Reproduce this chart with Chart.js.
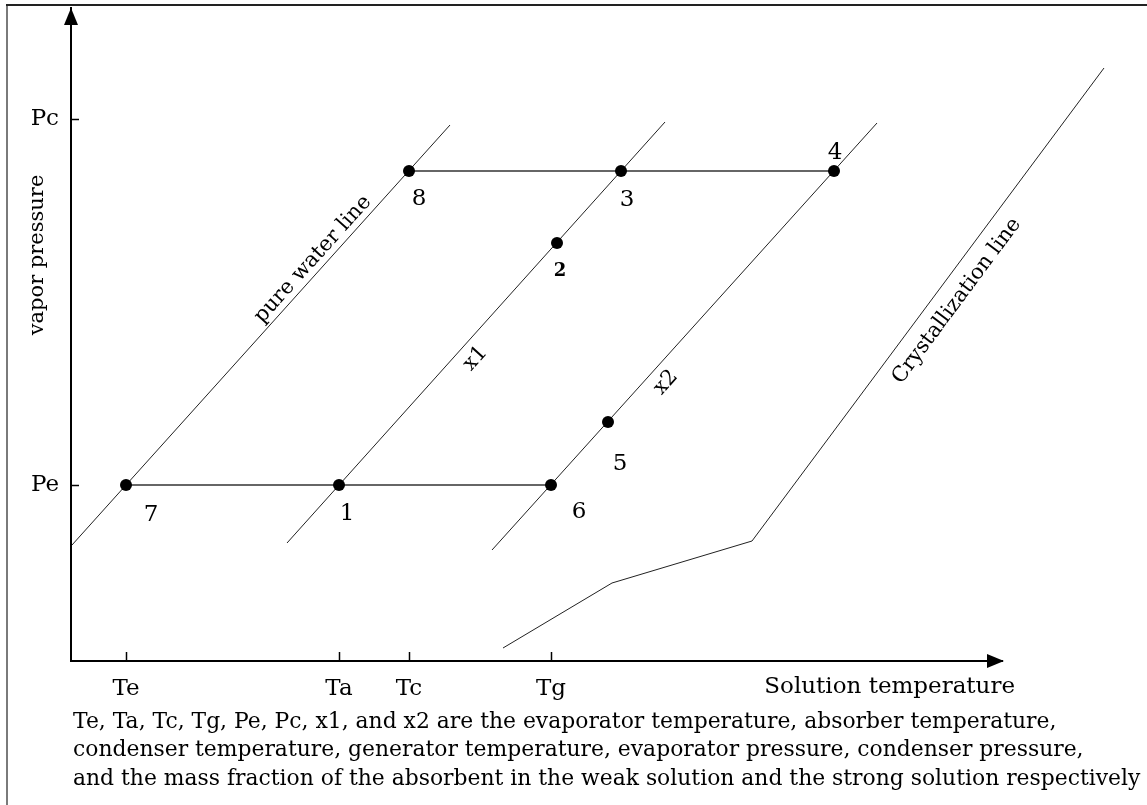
<!DOCTYPE html>
<html>
<head>
<meta charset="utf-8">
<title>Vapor pressure - solution temperature</title>
<script src="https://cdn.jsdelivr.net/npm/chart.js@4.4.1/dist/chart.umd.min.js"></script>
<style>
  html, body { margin: 0; padding: 0; background: #fff; }
  #grafico-wrap { width: 1147px; height: 805px; }
</style>
</head>
<body>
<div id="grafico-wrap"><canvas id="grafico" width="1147" height="805"></canvas></div>
<script>
// Datos del diagrama (unidades arbitrarias)
const tempTicks = [5.5, 26.8, 33.8, 48.0]
const tempNames = ['Te', 'Ta', 'Tc', 'Tg']
const presTicks = [17.6, 54.2]
const presNames = ['Pe', 'Pc']

// puntos de estado 1..8
const pointNames = ['1', '2', '3', '4', '5', '6', '7', '8']
const pointT = [26.8, 48.6, 55.0, 76.3, 53.7, 48.0, 5.5, 33.8]
const pointP = [17.6, 41.8, 49.0, 49.0, 23.9, 17.6, 17.6, 49.0]

// lineas
const pureWaterT = [0.1, 37.9]
const pureWaterP = [11.6, 53.6]
const x1T = [21.6, 59.4]
const x1P = [11.8, 53.9]
const x2T = [42.1, 80.6]
const x2P = [11.1, 53.8]
const crystT = [43.2, 54.1, 68.1, 103.3]
const crystP = [1.3, 7.8, 12.0, 59.3]
const peLineT = [5.5, 48.0]
const peLineP = [17.6, 17.6]
const pcLineT = [33.8, 76.3]
const pcLineP = [49.0, 49.0]

const caption = [
  'Te, Ta, Tc, Tg, Pe, Pc, x1, and x2 are the evaporator temperature, absorber temperature,',
  'condenser temperature, generator temperature, evaporator pressure, condenser pressure,',
  'and the mass fraction of the absorbent in the weak solution and the strong solution respectively'
]

// estilos de etiquetas (desplazamientos en pixeles)
const FONT = "'DejaVu Serif', 'Liberation Serif', serif"
const labelOffsets = {
  '1': [8, 29], '2': [3, 28], '3': [6, 29], '4': [1, -18],
  '5': [12, 42], '6': [28, 27], '7': [25, 30], '8': [10, 28]
}
const lineLabels = [
  { text: 'pure water line', line: 'pure', seg: 0, t: 0.661, dy: -12 },
  { text: 'x1', line: 'x1', seg: 0, t: 0.465, dy: 17 },
  { text: 'x2', line: 'x2', seg: 0, t: 0.419, dy: 17 },
  { text: 'Crystallization line', line: 'cryst', seg: 2, t: 0.534, dy: 21 }
]

function puntos(xs, ys) {
  return xs.map((v, i) => ({ x: v, y: ys[i] }))
}

function linea(id, xs, ys, ancho, color) {
  return {
    id: id,
    data: puntos(xs, ys),
    showLine: true,
    borderColor: color,
    borderWidth: ancho,
    pointRadius: 0,
    fill: false,
    clip: false
  }
}

// quita el relleno que Chart.js agrega por las etiquetas extremas
function sinRelleno(s) {
  s.paddingTop = 0
  s.paddingBottom = 0
  s.paddingLeft = 0
  s.paddingRight = 0
}

// Dibuja marco, flechas, marcas y textos
const decoracion = {
  id: 'decoracion',
  beforeDraw(chart) {
    const ctx = chart.ctx
    ctx.save()
    ctx.fillStyle = '#fff'
    ctx.fillRect(0, 0, chart.width, chart.height)
    ctx.lineWidth = 2
    ctx.strokeStyle = '#7a7a7a'
    ctx.beginPath(); ctx.moveTo(7, chart.height); ctx.lineTo(7, 5); ctx.stroke()
    ctx.strokeStyle = '#222'
    ctx.beginPath(); ctx.moveTo(6, 5); ctx.lineTo(chart.width, 5); ctx.stroke()
    ctx.restore()
  },
  afterDraw(chart) {
    const { ctx, chartArea } = chart
    const sx = chart.scales.x
    const sy = chart.scales.y
    ctx.save()
    ctx.fillStyle = '#000'
    ctx.strokeStyle = '#000'

    // flechas de los ejes
    ctx.beginPath()
    ctx.moveTo(chartArea.left, chartArea.top)
    ctx.lineTo(chartArea.left - 7, chartArea.top + 17)
    ctx.lineTo(chartArea.left + 7, chartArea.top + 17)
    ctx.closePath(); ctx.fill()
    ctx.beginPath()
    ctx.moveTo(chartArea.right + 2, chartArea.bottom)
    ctx.lineTo(chartArea.right - 15, chartArea.bottom - 7)
    ctx.lineTo(chartArea.right - 15, chartArea.bottom + 7)
    ctx.closePath(); ctx.fill()

    // marcas interiores
    ctx.lineWidth = 1.5
    tempTicks.forEach(v => {
      const px = Math.round(sx.getPixelForValue(v)) + 0.5
      ctx.beginPath(); ctx.moveTo(px, chartArea.bottom); ctx.lineTo(px, chartArea.bottom - 9); ctx.stroke()
    })
    presTicks.forEach(v => {
      const py = Math.round(sy.getPixelForValue(v)) + 0.5
      ctx.beginPath(); ctx.moveTo(chartArea.left, py); ctx.lineTo(chartArea.left + 8, py); ctx.stroke()
    })

    ctx.fillStyle = '#000'
    // titulos de ejes
    ctx.font = '21px ' + FONT
    ctx.textAlign = 'center'
    ctx.textBaseline = 'middle'
    ctx.save()
    ctx.translate(chartArea.left - 33, 255)
    ctx.rotate(-Math.PI / 2)
    ctx.fillText('vapor pressure', 0, 0)
    ctx.restore()
    ctx.font = '23px ' + FONT
    ctx.textAlign = 'right'
    ctx.fillText('Solution temperature', chartArea.right + 13, chartArea.bottom + 26)

    // etiquetas de puntos
    const metaPts = chart.getDatasetMeta(0)
    metaPts.data.forEach((el, i) => {
      const nombre = pointNames[i]
      const off = labelOffsets[nombre]
      ctx.font = nombre === '2' ? 'bold 18px ' + FONT : '23px ' + FONT
      ctx.textAlign = 'center'
      ctx.textBaseline = 'middle'
      ctx.fillText(nombre, el.x + off[0], el.y + off[1])
    })

    // etiquetas sobre las lineas
    lineLabels.forEach(lab => {
      const idx = chart.data.datasets.findIndex(d => d.id === lab.line)
      const pts = chart.getDatasetMeta(idx).data
      const a = pts[lab.seg], b = pts[lab.seg + 1]
      const px = a.x + (b.x - a.x) * lab.t
      const py = a.y + (b.y - a.y) * lab.t
      const ang = Math.atan2(b.y - a.y, b.x - a.x)
      ctx.save()
      ctx.translate(px, py)
      ctx.rotate(ang)
      ctx.font = '21px ' + FONT
      ctx.textAlign = 'center'
      ctx.textBaseline = 'middle'
      ctx.fillText(lab.text, 0, lab.dy)
      ctx.restore()
    })

    // leyenda inferior
    ctx.font = '20px ' + FONT
    const w = ctx.measureText(caption[2]).width
    const size = 20 * 1068 / w
    ctx.font = size.toFixed(2) + 'px ' + FONT
    ctx.textAlign = 'left'
    ctx.textBaseline = 'middle'
    caption.forEach((linea, i) => {
      ctx.fillText(linea, 73, 722 + i * 28.5)
    })
    ctx.restore()
  }
}

const datasets = [
  {
    id: 'points',
    data: puntos(pointT, pointP),
    showLine: false,
    pointRadius: 6,
    pointBackgroundColor: '#000',
    pointBorderWidth: 0,
    clip: false
  },
  linea('pe', peLineT, peLineP, 1.6, '#333'),
  linea('pc', pcLineT, pcLineP, 1.6, '#333'),
  linea('pure', pureWaterT, pureWaterP, 1, '#222'),
  linea('x1', x1T, x1P, 1, '#222'),
  linea('x2', x2T, x2P, 1, '#222'),
  linea('cryst', crystT, crystP, 1, '#222')
]

Chart.defaults.font.family = FONT
Chart.defaults.color = '#000'

new Chart(document.getElementById('grafico'), {
  type: 'scatter',
  data: { datasets: datasets },
  options: {
    responsive: false,
    devicePixelRatio: 1,
    animation: false,
    events: [],
    layout: { padding: { top: 8, right: 145, left: 0, bottom: 0 } },
    plugins: {
      legend: { display: false },
      tooltip: { enabled: false }
    },
    scales: {
      x: {
        type: 'linear',
        min: 0,
        max: 93.1,
        afterBuildTicks: s => { s.ticks = tempTicks.map(v => ({ value: v })) },
        afterFit: s => { s.height = 144; sinRelleno(s) },
        grid: { display: false, drawTicks: false },
        border: { display: true, color: '#000', width: 2 },
        ticks: {
          autoSkip: false,
          maxRotation: 0,
          padding: 14,
          font: { size: 23 },
          callback: (v, i) => tempNames[i]
        }
      },
      y: {
        type: 'linear',
        min: 0,
        max: 65.3,
        afterBuildTicks: s => { s.ticks = presTicks.map(v => ({ value: v })) },
        afterFit: s => { s.width = 71; sinRelleno(s) },
        grid: { display: false, drawTicks: false },
        border: { display: true, color: '#000', width: 2 },
        ticks: {
          autoSkip: false,
          padding: 12,
          font: { size: 23 },
          callback: (v, i) => presNames[i]
        }
      }
    }
  },
  plugins: [decoracion]
})
</script>
</body>
</html>
